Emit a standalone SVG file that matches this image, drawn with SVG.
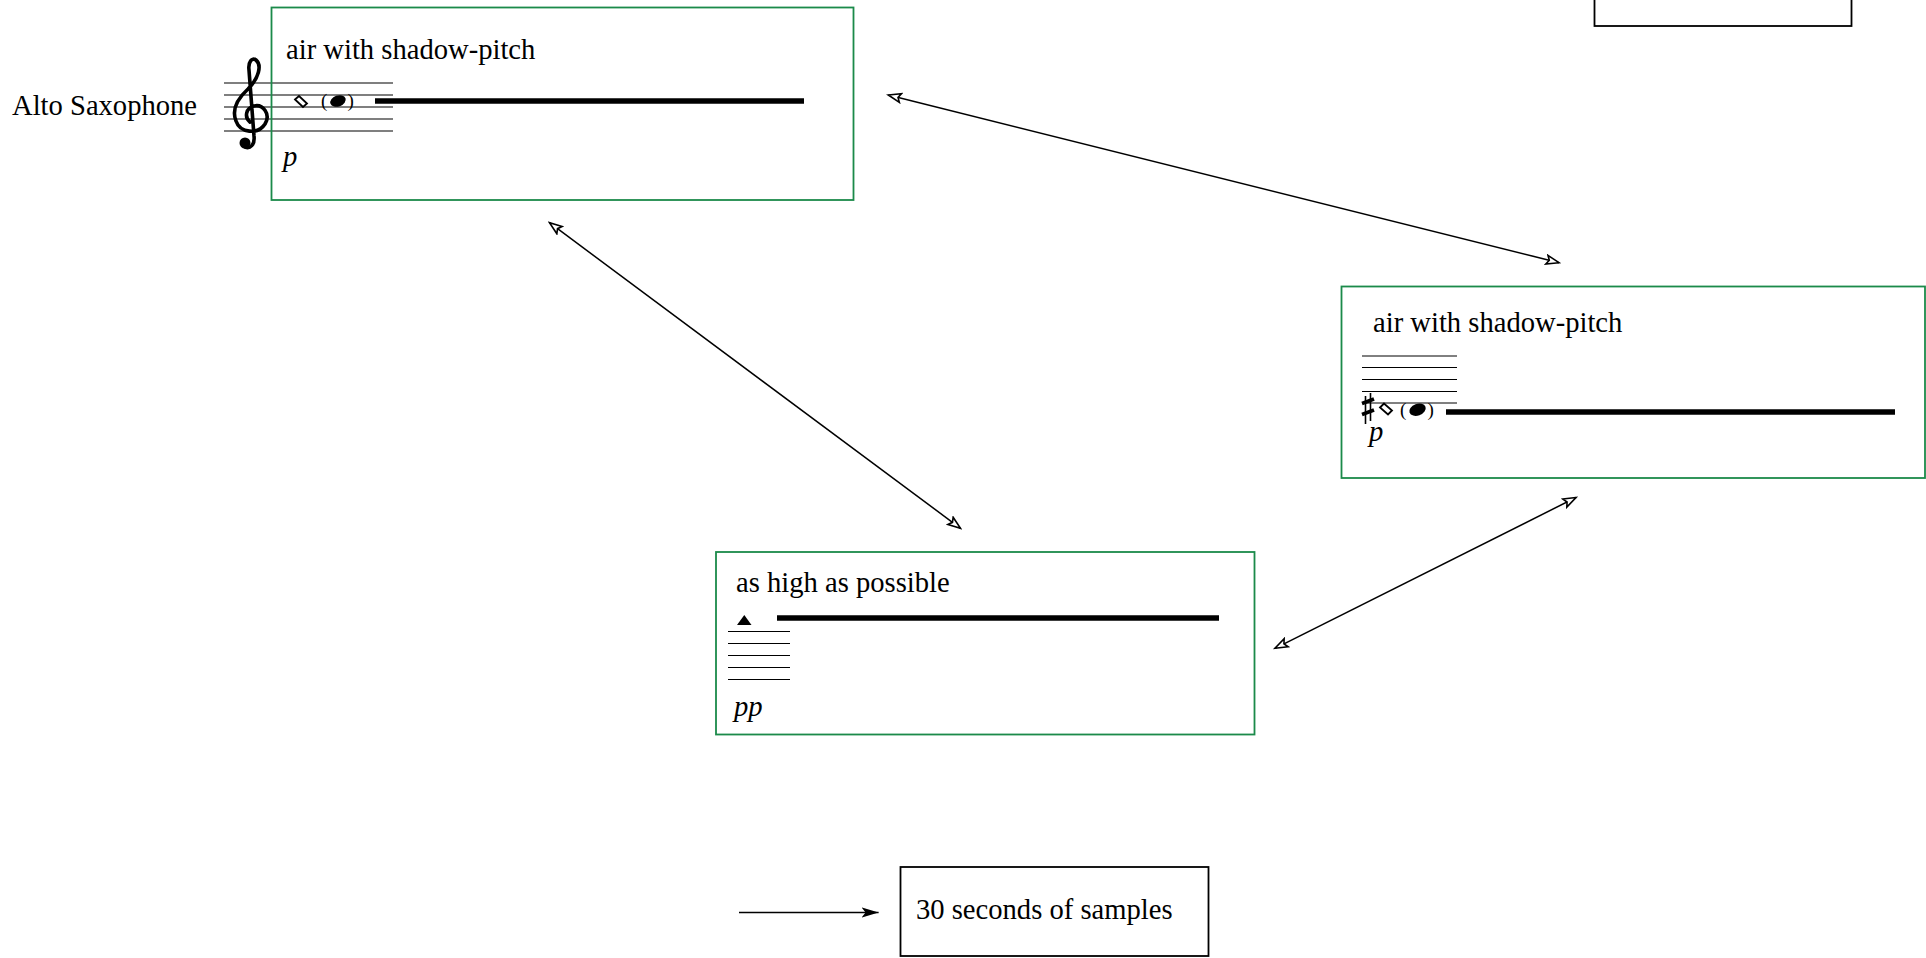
<svg xmlns="http://www.w3.org/2000/svg" width="1926" height="958" viewBox="0 0 1926 958">
<style>
.t{font-family:"Liberation Serif","Times New Roman",serif;font-size:28.6px;fill:#000}
.dyn{font-family:"Liberation Serif","Times New Roman",serif;font-size:28.6px;font-style:italic;fill:#000}
.par{font-family:"Liberation Serif","Times New Roman",serif;font-size:19px;fill:#000}
.gbox{fill:none;stroke:#1b8a4a;stroke-width:1.8}
.bbox{fill:none;stroke:#000;stroke-width:1.8}
.st1{stroke:#555;stroke-width:1.5}
.st{stroke:#000;stroke-width:1}
.thick{stroke:#000;stroke-width:5.5}
.conn{fill:none;stroke:#000;stroke-width:1.5}
</style>
<defs>
<marker id="open" viewBox="0 0 16 12" refX="14" refY="6" markerWidth="16" markerHeight="12" markerUnits="userSpaceOnUse" orient="auto-start-reverse">
<path d="M1.5,1.5 L14,6 L1.5,10.5 L4,6 Z" fill="#fff" stroke="#000" stroke-width="1.6" stroke-linejoin="miter"/>
</marker>
<marker id="fill" viewBox="0 0 18 12" refX="17" refY="6" markerWidth="18" markerHeight="12" markerUnits="userSpaceOnUse" orient="auto">
<path d="M0,1 L17,6 L0,11 L4,6 Z" fill="#000"/>
</marker>
</defs>
<rect width="1926" height="958" fill="#fff"/>

<text class="t" x="12" y="115">Alto Saxophone</text>

<g id="node1">
<line class="st1" x1="224" y1="83" x2="393" y2="83"/>
<line class="st1" x1="224" y1="95" x2="393" y2="95"/>
<line class="st1" x1="224" y1="107" x2="393" y2="107"/>
<line class="st1" x1="224" y1="119" x2="393" y2="119"/>
<line class="st1" x1="224" y1="131" x2="393" y2="131"/>
<path d="M245 147 C250 149 255 145 254 136 L249 70 C248 62 252 57 256 60 C262 65 259 78 248 89 C236 100 232 111 236 121 C240 133 258 135 265 124 C271 114 263 104 254 106 C246 108 244 117 250 122" fill="none" stroke="#000" stroke-width="3.6" stroke-linecap="round"/>
<circle cx="245" cy="143" r="5.5" fill="#000"/>
<polygon points="295,99.5 299,96 307,103.5 303,107" fill="#fff" stroke="#000" stroke-width="1.8"/>
<text class="par" x="321" y="107">(</text>
<ellipse cx="338" cy="101" rx="8" ry="5.5" transform="rotate(-20 338 101)" fill="#000"/>
<text class="par" x="347.5" y="107">)</text>
<line class="thick" x1="375" y1="101" x2="804" y2="101"/>
<text class="t" x="286" y="59">air with shadow-pitch</text>
<text class="dyn" x="283" y="166">p</text>
<rect class="gbox" x="271.5" y="7.5" width="582" height="192.5"/>
</g>

<g id="node2">
<line class="st" x1="1362" y1="356" x2="1457" y2="356"/>
<line class="st" x1="1362" y1="367.5" x2="1457" y2="367.5"/>
<line class="st" x1="1362" y1="379.5" x2="1457" y2="379.5"/>
<line class="st" x1="1362" y1="391.5" x2="1457" y2="391.5"/>
<line class="st" x1="1362" y1="403" x2="1457" y2="403"/>
<line x1="1365.5" y1="396" x2="1365.5" y2="424" stroke="#000" stroke-width="1.6"/>
<line x1="1370.5" y1="393" x2="1370.5" y2="421" stroke="#000" stroke-width="1.6"/>
<line x1="1362" y1="403.5" x2="1374" y2="399" stroke="#000" stroke-width="3.6"/>
<line x1="1362" y1="414.5" x2="1374" y2="410" stroke="#000" stroke-width="3.6"/>
<polygon points="1380,407.5 1384,403.5 1392,410.5 1388,414.5" fill="#fff" stroke="#000" stroke-width="1.8"/>
<text class="par" x="1400" y="415.5">(</text>
<ellipse cx="1417.5" cy="409.7" rx="8.5" ry="5.8" transform="rotate(-20 1417.5 409.7)" fill="#000"/>
<text class="par" x="1427.5" y="415.5">)</text>
<line class="thick" x1="1446" y1="412" x2="1895" y2="412"/>
<text class="t" x="1373" y="332">air with shadow-pitch</text>
<text class="dyn" x="1369" y="441">p</text>
<rect class="gbox" x="1341.5" y="286.5" width="583.5" height="191.5"/>
</g>

<g id="node3">
<polygon points="737,625 744.3,615 751.5,625" fill="#000"/>
<line class="st" x1="728" y1="631.5" x2="790" y2="631.5"/>
<line class="st" x1="728" y1="643.5" x2="790" y2="643.5"/>
<line class="st" x1="728" y1="655.5" x2="790" y2="655.5"/>
<line class="st" x1="728" y1="667.5" x2="790" y2="667.5"/>
<line class="st" x1="728" y1="679.5" x2="790" y2="679.5"/>
<line class="thick" x1="777" y1="618" x2="1219" y2="618"/>
<text class="t" x="736" y="592">as high as possible</text>
<text class="dyn" x="734" y="716">pp</text>
<rect class="gbox" x="716" y="552" width="538.5" height="182.5"/>
</g>

<g id="node4">
<rect class="bbox" x="1594.5" y="-20" width="257" height="46"/>
</g>

<g id="legend">
<rect class="bbox" x="900.5" y="867" width="308" height="89"/>
<text class="t" x="916" y="918.5">30 seconds of samples</text>
</g>

<g id="connectors">
<line class="conn" x1="888.3" y1="95" x2="1559" y2="262.7" marker-start="url(#open)" marker-end="url(#open)"/>
<line class="conn" x1="549.5" y1="222.7" x2="960.5" y2="528.3" marker-start="url(#open)" marker-end="url(#open)"/>
<line class="conn" x1="1275" y1="648.3" x2="1576" y2="497.5" marker-start="url(#open)" marker-end="url(#open)"/>
<line class="conn" x1="739" y1="912.5" x2="878.6" y2="912.5" marker-end="url(#fill)"/>
</g>
</svg>
